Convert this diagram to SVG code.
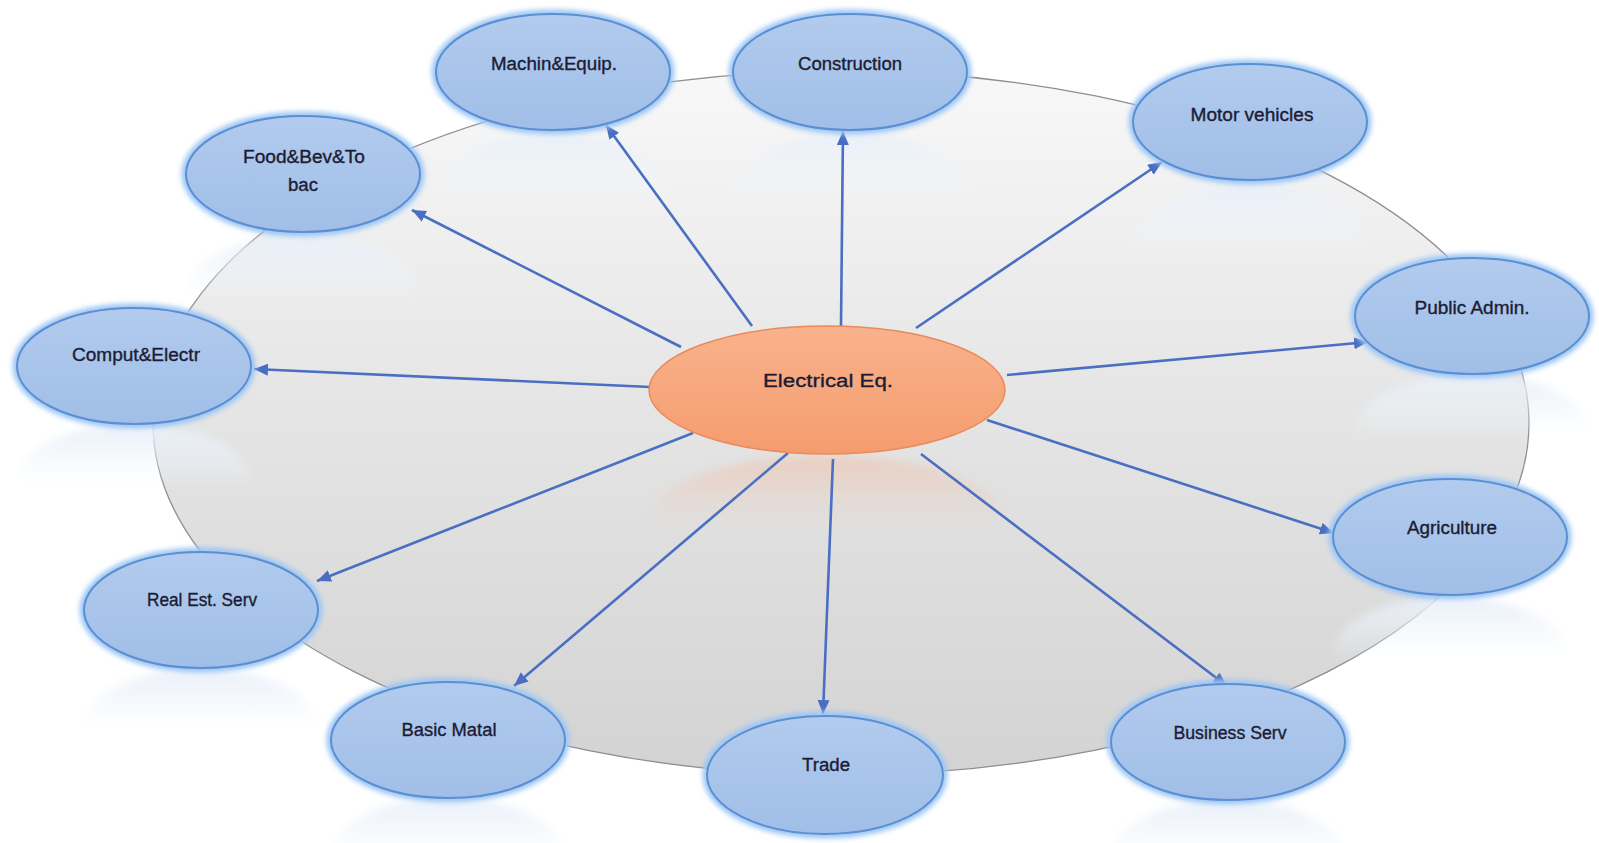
<svg xmlns="http://www.w3.org/2000/svg" width="1599" height="843" viewBox="0 0 1599 843">
<style>
.node{fill:url(#nodeGrad);stroke:#5b8fd4;stroke-width:2}
.glow{fill:none;stroke:#9cc6f4;stroke-width:9;filter:url(#blur3)}
.refl{fill:url(#reflGrad)}
.lbl{font-family:"Liberation Sans",Arial,sans-serif;font-size:18px;fill:#1c1c34;stroke:#1c1c34;stroke-width:0.35;text-anchor:middle}
.conn{stroke:#4a6fc2;stroke-width:2.6;fill:none;marker-end:url(#arrow)}
</style>
<defs>
<linearGradient id="bgGrad" x1="0" y1="0" x2="0" y2="1">
<stop offset="0" stop-color="#f8f8f8"/>
<stop offset="0.45" stop-color="#e6e6e6"/>
<stop offset="1" stop-color="#d3d3d3"/>
</linearGradient>
<linearGradient id="nodeGrad" x1="0" y1="0" x2="0" y2="1">
<stop offset="0" stop-color="#b2cbee"/>
<stop offset="1" stop-color="#a0bee7"/>
</linearGradient>
<linearGradient id="centerGrad" x1="0" y1="0" x2="0" y2="1">
<stop offset="0" stop-color="#f9b28c"/>
<stop offset="1" stop-color="#f59c6e"/>
</linearGradient>
<linearGradient id="reflGrad" x1="0" y1="0" x2="0" y2="1">
<stop offset="0" stop-color="#e8eff9" stop-opacity="1"/>
<stop offset="0.55" stop-color="#f2f6fb" stop-opacity="0"/>
</linearGradient>
<linearGradient id="reflCenter" x1="0" y1="0" x2="0" y2="1">
<stop offset="0" stop-color="#f2b595" stop-opacity="0.45"/>
<stop offset="0.55" stop-color="#f2c2a8" stop-opacity="0"/>
</linearGradient>
<filter id="blur3" x="-20%" y="-30%" width="140%" height="160%"><feGaussianBlur stdDeviation="2.5"/></filter>
<filter id="blur6" x="-20%" y="-30%" width="140%" height="160%"><feGaussianBlur stdDeviation="5"/></filter>
<marker id="arrow" markerUnits="userSpaceOnUse" markerWidth="16" markerHeight="14" refX="14" refY="6" orient="auto">
<path d="M0,0 L14,6 L0,12 Z" fill="#4a6fc2"/>
</marker>
</defs>
<rect width="1599" height="843" fill="#ffffff"/>
<ellipse id="backdrop" cx="841" cy="423" rx="688" ry="352" fill="url(#bgGrad)" stroke="#8e8e8e" stroke-width="1.3"/>
<g id="reflections">
<ellipse class="refl" filter="url(#blur6)" cx="553" cy="192" rx="117" ry="58"/>
<ellipse class="refl" filter="url(#blur6)" cx="850" cy="192" rx="117" ry="58"/>
<ellipse class="refl" filter="url(#blur6)" cx="303" cy="294" rx="117" ry="58"/>
<ellipse class="refl" filter="url(#blur6)" cx="1250" cy="243" rx="117" ry="58"/>
<ellipse class="refl" filter="url(#blur6)" cx="134" cy="482" rx="117" ry="58"/>
<ellipse class="refl" filter="url(#blur6)" cx="1472" cy="432" rx="117" ry="58"/>
<ellipse class="refl" filter="url(#blur6)" cx="1450" cy="655" rx="117" ry="58"/>
<ellipse class="refl" filter="url(#blur6)" cx="201" cy="727" rx="117" ry="58"/>
<ellipse class="refl" filter="url(#blur6)" cx="448" cy="856" rx="117" ry="58"/>
<ellipse class="refl" filter="url(#blur6)" cx="1228" cy="858" rx="117" ry="58"/>
<ellipse fill="url(#reflCenter)" filter="url(#blur6)" cx="827" cy="520" rx="178" ry="64"/>
</g>
<g id="connectors">
<line class="conn" x1="681" y1="347" x2="412" y2="210"/>
<line class="conn" x1="752" y1="326" x2="606" y2="125"/>
<line class="conn" x1="841" y1="326" x2="843" y2="131"/>
<line class="conn" x1="916" y1="328" x2="1162" y2="162"/>
<line class="conn" x1="1007" y1="375" x2="1368" y2="342"/>
<line class="conn" x1="987" y1="420" x2="1334" y2="533"/>
<line class="conn" x1="921" y1="454" x2="1227" y2="686"/>
<line class="conn" x1="833" y1="459" x2="823" y2="714"/>
<line class="conn" x1="788" y1="453" x2="514" y2="686"/>
<line class="conn" x1="693" y1="433" x2="317" y2="581"/>
<line class="conn" x1="650" y1="387" x2="254" y2="369"/>
</g>
<g id="node-center">
<ellipse cx="827" cy="390" rx="178" ry="64" fill="url(#centerGrad)" stroke="#ea8a5a" stroke-width="1.5"/>
<text class="lbl" x="828" y="387" font-size="20" textLength="130" lengthAdjust="spacingAndGlyphs">Electrical Eq.</text>
</g>
<g id="node-machin">
<ellipse class="glow" cx="553" cy="72" rx="117" ry="58"/>
<ellipse class="node" cx="553" cy="72" rx="117" ry="58"/>
<text class="lbl" x="554" y="70" textLength="126" lengthAdjust="spacingAndGlyphs">Machin&amp;Equip.</text>
</g>
<g id="node-construction">
<ellipse class="glow" cx="850" cy="72" rx="117" ry="58"/>
<ellipse class="node" cx="850" cy="72" rx="117" ry="58"/>
<text class="lbl" x="850" y="70" textLength="104" lengthAdjust="spacingAndGlyphs">Construction</text>
</g>
<g id="node-food">
<ellipse class="glow" cx="303" cy="174" rx="117" ry="58"/>
<ellipse class="node" cx="303" cy="174" rx="117" ry="58"/>
<text class="lbl" x="304" y="163" textLength="122" lengthAdjust="spacingAndGlyphs">Food&amp;Bev&amp;To</text>
<text class="lbl" x="303" y="191" textLength="30" lengthAdjust="spacingAndGlyphs">bac</text>
</g>
<g id="node-motor">
<ellipse class="glow" cx="1250" cy="122" rx="117" ry="58"/>
<ellipse class="node" cx="1250" cy="122" rx="117" ry="58"/>
<text class="lbl" x="1252" y="121" textLength="123" lengthAdjust="spacingAndGlyphs">Motor vehicles</text>
</g>
<g id="node-comput">
<ellipse class="glow" cx="134" cy="366" rx="117" ry="58"/>
<ellipse class="node" cx="134" cy="366" rx="117" ry="58"/>
<text class="lbl" x="136" y="361" textLength="128" lengthAdjust="spacingAndGlyphs">Comput&amp;Electr</text>
</g>
<g id="node-public">
<ellipse class="glow" cx="1472" cy="316" rx="117" ry="58"/>
<ellipse class="node" cx="1472" cy="316" rx="117" ry="58"/>
<text class="lbl" x="1472" y="314" textLength="115" lengthAdjust="spacingAndGlyphs">Public Admin.</text>
</g>
<g id="node-agriculture">
<ellipse class="glow" cx="1450" cy="537" rx="117" ry="58"/>
<ellipse class="node" cx="1450" cy="537" rx="117" ry="58"/>
<text class="lbl" x="1452" y="534" textLength="90" lengthAdjust="spacingAndGlyphs">Agriculture</text>
</g>
<g id="node-realest">
<ellipse class="glow" cx="201" cy="610" rx="117" ry="58"/>
<ellipse class="node" cx="201" cy="610" rx="117" ry="58"/>
<text class="lbl" x="202" y="606" textLength="110" lengthAdjust="spacingAndGlyphs">Real Est. Serv</text>
</g>
<g id="node-basic">
<ellipse class="glow" cx="448" cy="740" rx="117" ry="58"/>
<ellipse class="node" cx="448" cy="740" rx="117" ry="58"/>
<text class="lbl" x="449" y="736" textLength="95" lengthAdjust="spacingAndGlyphs">Basic Matal</text>
</g>
<g id="node-trade">
<ellipse class="glow" cx="825" cy="775" rx="118" ry="59"/>
<ellipse class="node" cx="825" cy="775" rx="118" ry="59"/>
<text class="lbl" x="826" y="771" textLength="48" lengthAdjust="spacingAndGlyphs">Trade</text>
</g>
<g id="node-business">
<ellipse class="glow" cx="1228" cy="742" rx="117" ry="58"/>
<ellipse class="node" cx="1228" cy="742" rx="117" ry="58"/>
<text class="lbl" x="1230" y="739" textLength="113" lengthAdjust="spacingAndGlyphs">Business Serv</text>
</g>
</svg>
